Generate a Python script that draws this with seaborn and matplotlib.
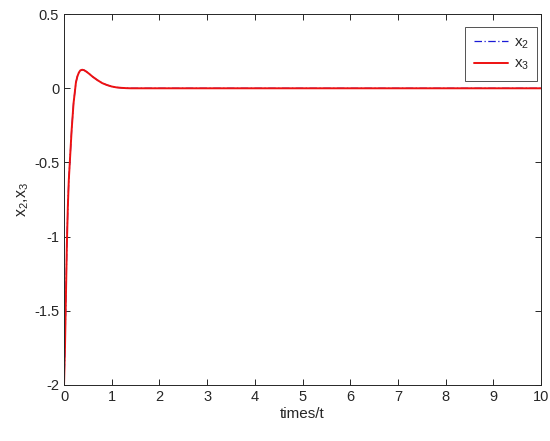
import numpy as np
import pandas as pd
import matplotlib
matplotlib.use('Agg')
import matplotlib.pyplot as plt
import seaborn as sns

# values
t = [0, 0.02, 0.04, 0.06, 0.08, 0.10, 0.13, 0.16, 0.20, 0.25, 0.28, 0.31,
     0.34, 0.38, 0.42, 0.47, 0.53, 0.60, 0.70, 0.80, 0.90, 1.0, 1.1, 1.2,
     1.3, 1.4, 2, 4, 6, 8, 10]
x3 = [-2.0, -1.75, -1.4, -1.05, -0.8, -0.62, -0.45, -0.28, -0.1, 0.04, 0.08, 0.105,
      0.12, 0.125, 0.122, 0.112, 0.097, 0.078, 0.055, 0.035, 0.022, 0.012, 0.006, 0.003,
      0.001, 0, 0, 0, 0, 0, 0]
x2 = [-2.0, -1.75, -1.4, -1.05, -0.8, -0.62, -0.45, -0.28, -0.1, 0.04, 0.08, 0.105,
      0.12, 0.125, 0.122, 0.112, 0.097, 0.078, 0.055, 0.035, 0.022, 0.012, 0.006, 0.003,
      0.001, 0, 0, 0, 0, 0, 0]

x_ticks = list(range(0, 11))
y_ticks = [-2, -1.5, -1, -0.5, 0, 0.5]
y_tick_labels = ['-2', '-1.5', '-1', '-0.5', '0', '0.5']

sns.set_theme(style='white')
plt.rcParams['font.family'] = ['Liberation Sans', 'DejaVu Sans']
plt.rcParams['mathtext.default'] = 'regular'

df = pd.DataFrame({'t': t, 'x2': x2, 'x3': x3})

fig = plt.figure(figsize=(5.5, 4.41), dpi=100)
ax = fig.add_axes([0.1164, 0.127, 0.8672, 0.841])

sns.lineplot(data=df, x='t', y='x2', ax=ax, color='#1a1ad6', lw=0.9,
             linestyle=(0, (6, 2, 1, 2)), label='x$_2$')
sns.lineplot(data=df, x='t', y='x3', ax=ax, color='#ee1111', lw=1.4,
             label='x$_3$')

ax.set_xlim(0, 10)
ax.set_ylim(-2, 0.5)
ax.set_xticks(x_ticks)
ax.set_xticklabels([str(v) for v in x_ticks])
ax.set_yticks(y_ticks)
ax.set_yticklabels(y_tick_labels)
ax.tick_params(direction='in', length=4, width=0.7, labelsize=10.5,
               colors='#262626', top=True, right=True, bottom=True, left=True,
               labeltop=False, labelright=False)
for s in ax.spines.values():
    s.set_color('#262626')
    s.set_linewidth(0.7)
ax.set_xlabel('times/t', fontsize=11, color='#262626', labelpad=2)
ax.set_ylabel('x$_2$,x$_3$', fontsize=11.5, color='#262626', labelpad=2)

leg = ax.legend(loc='upper right', bbox_to_anchor=(0.992, 0.965),
                borderaxespad=0, fontsize=11, frameon=True, fancybox=False,
                edgecolor='#262626', handlelength=2.2, handletextpad=0.4,
                labelspacing=0.4, borderpad=0.55)
leg.get_frame().set_linewidth(0.7)

fig.savefig('out.png', dpi=100)
